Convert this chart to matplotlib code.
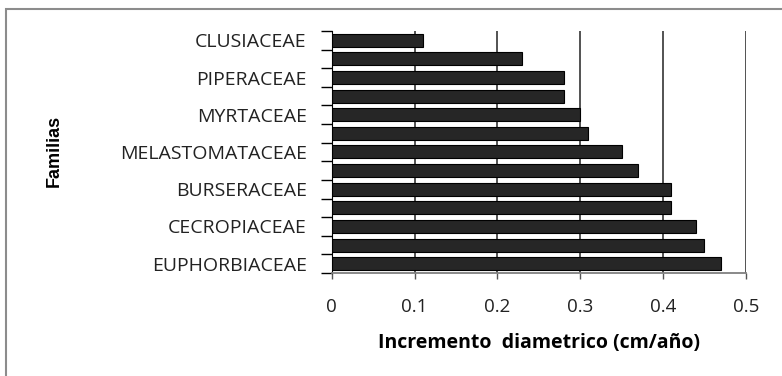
import numpy as np
import matplotlib.pyplot as plt
from matplotlib.patches import Rectangle

# families from top to bottom; only every other one is labelled on the axis
familias = ["CLUSIACEAE", "", "PIPERACEAE", "", "MYRTACEAE", "",
            "MELASTOMATACEAE", "", "BURSERACEAE", "", "CECROPIACEAE", "",
            "EUPHORBIACEAE"]
incremento = [0.11, 0.23, 0.28, 0.28, 0.30, 0.31, 0.35, 0.37,
              0.41, 0.41, 0.44, 0.45, 0.47]
xticks = [0, 0.1, 0.2, 0.3, 0.4, 0.5]
xticklabels = ["0", "0.1", "0.2", "0.3", "0.4", "0.5"]

fig = plt.figure(figsize=(7.82, 3.76), dpi=100)
ax = fig.add_axes([0.4242, 0.274, 0.5294, 0.6436])

n = len(incremento)
pos = np.arange(n)[::-1]
ax.barh(pos, incremento, height=0.7, color="#262626", edgecolor="black",
        linewidth=0.8, zorder=3)

ax.set_xlim(0, 0.5)
ax.set_ylim(-0.5, n - 0.5)
ax.set_xticks(xticks)
ax.set_xticklabels(xticklabels, fontfamily="Open Sans", fontsize=13.5, color="#222222")
ax.set_yticks(pos)
ax.set_yticklabels(familias, fontfamily="Open Sans", fontsize=14, color="#222222")
ax.set_yticks(np.arange(n + 1) - 0.5, minor=True)
ax.tick_params(axis="y", which="major", length=0, pad=18)
ax.tick_params(axis="y", which="minor", length=8, width=1, color="black")
ax.tick_params(axis="x", length=4, width=1, color="#555555", pad=14)

for x in xticks[1:]:
    ax.axvline(x, color="#444444", linewidth=1.3, zorder=1)

for s in ["top", "right"]:
    ax.spines[s].set_visible(False)
ax.spines["left"].set_color("black")
ax.spines["bottom"].set_color("#808080")
ax.spines["bottom"].set_linewidth(1.3)

ax.set_xlabel("Incremento  diametrico (cm/año)", fontfamily="Open Sans",
              fontweight="bold", fontsize=14, labelpad=12)
fig.text(0.070, 0.598, "Familias", rotation=90, ha="center", va="center",
         fontfamily="Liberation Sans", fontweight="bold", fontsize=13)

# outer chart frame (only left and top edges fall inside the image)
fig.patches.append(Rectangle((6 / 782, -0.1), 1.2, 1.1 - 9 / 376,
                             transform=fig.transFigure, fill=False,
                             edgecolor="#8c8c8c", linewidth=1.5))

fig.savefig("out.png", dpi=100)
